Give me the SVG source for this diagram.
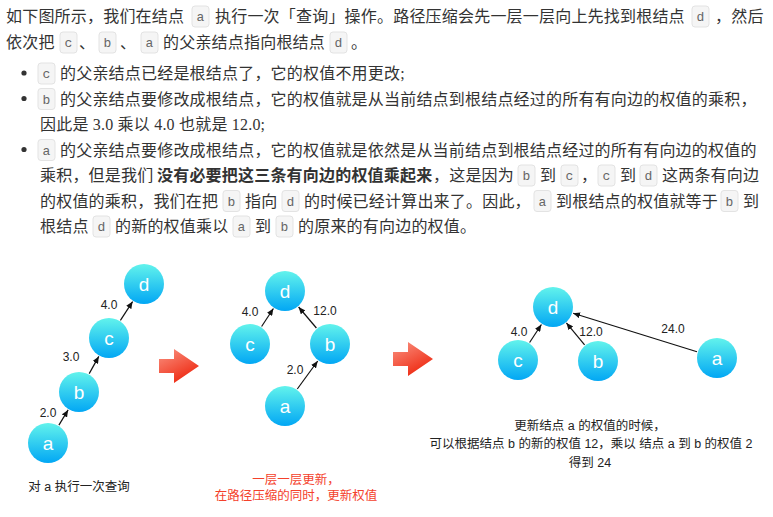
<svg xmlns="http://www.w3.org/2000/svg" width="773" height="517" viewBox="0 0 773 517">
<defs>
<style>
.t{font-family:"Liberation Serif","Noto Sans CJK SC",serif;font-size:16px;fill:#333;letter-spacing:0.2px}
.b{font-weight:bold}
.cb{fill:#f5f5f5;stroke:#e3e3e3;stroke-width:1}
.ct{font-family:"Liberation Mono",monospace;font-size:13px;fill:#666;text-anchor:middle}
.bul{fill:#333}
.node circle{fill:url(#ng)}
.node text{font-family:"Liberation Sans","Noto Sans CJK SC",sans-serif;font-size:19px;fill:#fff;text-anchor:middle}
.edge line{stroke:#111;stroke-width:1.2;marker-end:url(#ah)}
.el{font-family:"Liberation Sans",sans-serif;font-size:12px;fill:#222;text-anchor:middle}
.cap{font-family:"Liberation Sans","Noto Sans CJK SC",sans-serif;font-size:12.5px;fill:#222;text-anchor:middle}
.red{fill:#f4412b}
.big{fill:url(#rg)}
</style>
<linearGradient id="ng" x1="0" y1="0" x2="0" y2="1">
<stop offset="0" stop-color="#62f3ec"/>
<stop offset="1" stop-color="#02a7f4"/>
</linearGradient>
<linearGradient id="rg" x1="0" y1="0" x2="0.6" y2="1">
<stop offset="0" stop-color="#fa9483"/>
<stop offset="1" stop-color="#ee2810"/>
</linearGradient>
<marker id="ah" markerWidth="8" markerHeight="6" refX="7" refY="3" orient="auto" markerUnits="userSpaceOnUse">
<path d="M0,0 L7,3 L0,6 Z" fill="#111"/>
</marker>
</defs>
<rect width="773" height="517" fill="#fff"/>

<!-- body text -->
<g id="text">
<text class="t" x="6" y="22">如下图所示，我们在结点</text>
<rect class="cb" x="192" y="6" width="17" height="21" rx="3"/><text class="ct" x="200.5" y="21">a</text>
<text class="t" x="215" y="22">执行一次「查询」操作。路径压缩会先一层一层向上先找到根结点</text>
<rect class="cb" x="692" y="6" width="17" height="21" rx="3"/><text class="ct" x="700.5" y="21">d</text>
<text class="t" x="715" y="22">，然后</text>

<text class="t" x="6" y="48">依次把</text>
<rect class="cb" x="60" y="32" width="17" height="21" rx="3"/><text class="ct" x="68.5" y="47">c</text>
<text class="t" x="79" y="48">、</text>
<rect class="cb" x="99" y="32" width="17" height="21" rx="3"/><text class="ct" x="107.5" y="47">b</text>
<text class="t" x="120" y="48">、</text>
<rect class="cb" x="141" y="32" width="17" height="21" rx="3"/><text class="ct" x="149.5" y="47">a</text>
<text class="t" x="163" y="48">的父亲结点指向根结点</text>
<rect class="cb" x="330" y="32" width="17" height="21" rx="3"/><text class="ct" x="338.5" y="47">d</text>
<text class="t" x="351" y="48">。</text>

<circle class="bul" cx="24" cy="73" r="2.6"/>
<rect class="cb" x="38" y="63" width="17" height="21" rx="3"/><text class="ct" x="46.5" y="78">c</text>
<text class="t" x="60" y="79">的父亲结点已经是根结点了，它的权值不用更改;</text>

<circle class="bul" cx="24" cy="98.5" r="2.6"/>
<rect class="cb" x="38" y="88.5" width="17" height="21" rx="3"/><text class="ct" x="46.5" y="103.5">b</text>
<text class="t" x="60" y="104.5">的父亲结点要修改成根结点，它的权值就是从当前结点到根结点经过的所有有向边的权值的乘积，</text>

<text class="t" x="40" y="130">因此是 3.0 乘以 4.0 也就是 12.0;</text>

<circle class="bul" cx="24" cy="149.5" r="2.6"/>
<rect class="cb" x="38" y="139.5" width="17" height="21" rx="3"/><text class="ct" x="46.5" y="154.5">a</text>
<text class="t" x="60" y="155.5">的父亲结点要修改成根结点，它的权值就是依然是从当前结点到根结点经过的所有有向边的权值的</text>

<text class="t" x="40" y="181">乘积，但是我们</text>
<text class="t b" x="157" y="181">没有必要把这三条有向边的权值乘起来</text>
<text class="t" x="433" y="181">，这是因为</text>
<rect class="cb" x="518" y="165" width="17" height="21" rx="3"/><text class="ct" x="526.5" y="180">b</text>
<text class="t" x="540" y="181">到</text>
<rect class="cb" x="561" y="165" width="17" height="21" rx="3"/><text class="ct" x="569.5" y="180">c</text>
<text class="t" x="581" y="181">，</text>
<rect class="cb" x="598" y="165" width="17" height="21" rx="3"/><text class="ct" x="606.5" y="180">c</text>
<text class="t" x="620" y="181">到</text>
<rect class="cb" x="640" y="165" width="17" height="21" rx="3"/><text class="ct" x="648.5" y="180">d</text>
<text class="t" x="662" y="181">这两条有向边</text>

<text class="t" x="40" y="206.5">的权值的乘积，我们在把</text>
<rect class="cb" x="223" y="190.5" width="17" height="21" rx="3"/><text class="ct" x="231.5" y="205.5">b</text>
<text class="t" x="245" y="206.5">指向</text>
<rect class="cb" x="282" y="190.5" width="17" height="21" rx="3"/><text class="ct" x="290.5" y="205.5">d</text>
<text class="t" x="304" y="206.5">的时候已经计算出来了。因此，</text>
<rect class="cb" x="534" y="190.5" width="17" height="21" rx="3"/><text class="ct" x="542.5" y="205.5">a</text>
<text class="t" x="556" y="206.5">到根结点的权值就等于</text>
<rect class="cb" x="721" y="190.5" width="17" height="21" rx="3"/><text class="ct" x="729.5" y="205.5">b</text>
<text class="t" x="743" y="206.5">到</text>

<text class="t" x="40" y="232">根结点</text>
<rect class="cb" x="93" y="216" width="17" height="21" rx="3"/><text class="ct" x="101.5" y="231">d</text>
<text class="t" x="115" y="232">的新的权值乘以</text>
<rect class="cb" x="233" y="216" width="17" height="21" rx="3"/><text class="ct" x="241.5" y="231">a</text>
<text class="t" x="255" y="232">到</text>
<rect class="cb" x="276" y="216" width="17" height="21" rx="3"/><text class="ct" x="284.5" y="231">b</text>
<text class="t" x="298" y="232">的原来的有向边的权值。</text>
</g>

<!-- connectors -->
<g id="connectors" class="edge">
<line x1="58.9" y1="425.1" x2="68.1" y2="409.9"/>
<line x1="89.2" y1="373.6" x2="98.8" y2="356.4"/>
<line x1="120.4" y1="320.4" x2="132.6" y2="301.6"/>
<line x1="261.6" y1="326.5" x2="273.4" y2="308.5"/>
<line x1="316.4" y1="328" x2="298.6" y2="307"/>
<line x1="297.3" y1="389" x2="317.7" y2="361"/>
<line x1="529.6" y1="342.5" x2="541.4" y2="324.5"/>
<line x1="584.6" y1="344.9" x2="566.4" y2="322.9"/>
<line x1="697" y1="351.8" x2="573.1" y2="313.2"/>
</g>
<g id="edge-labels">
<text class="el" x="48" y="417">2.0</text>
<text class="el" x="71" y="361">3.0</text>
<text class="el" x="109" y="309">4.0</text>
<text class="el" x="250" y="316">4.0</text>
<text class="el" x="325" y="315">12.0</text>
<text class="el" x="295" y="374">2.0</text>
<text class="el" x="519" y="336">4.0</text>
<text class="el" x="591" y="336">12.0</text>
<text class="el" x="673" y="333">24.0</text>
</g>

<!-- panel 1 -->
<g id="p1-d" class="node"><circle cx="144" cy="284" r="20"/><text x="144" y="291">d</text></g>
<g id="p1-c" class="node"><circle cx="109" cy="338" r="20"/><text x="109" y="345">c</text></g>
<g id="p1-b" class="node"><circle cx="79" cy="392" r="20"/><text x="79" y="399">b</text></g>
<g id="p1-a" class="node"><circle cx="48" cy="443" r="20"/><text x="48" y="450">a</text></g>
<text class="cap" x="79" y="491">对 a 执行一次查询</text>

<!-- arrow 1 -->
<path id="arrow1" class="big" d="M159,359 H174 V349 L199,366 L174,383 V373 H159 Z"/>

<!-- panel 2 -->
<g id="p2-d" class="node"><circle cx="285" cy="291" r="20"/><text x="285" y="298">d</text></g>
<g id="p2-c" class="node"><circle cx="250" cy="344" r="20"/><text x="250" y="351">c</text></g>
<g id="p2-b" class="node"><circle cx="330" cy="344" r="20"/><text x="330" y="351">b</text></g>
<g id="p2-a" class="node"><circle cx="285" cy="406" r="20"/><text x="285" y="413">a</text></g>
<text class="cap red" x="296" y="484">一层一层更新，</text>
<text class="cap red" x="296" y="500">在路径压缩的同时，更新权值</text>

<!-- arrow 2 -->
<path id="arrow2" class="big" d="M393,352 H408 V342 L433,359 L408,376 V366 H393 Z"/>

<!-- panel 3 -->
<g id="p3-d" class="node"><circle cx="553" cy="307" r="20"/><text x="553" y="314">d</text></g>
<g id="p3-c" class="node"><circle cx="518" cy="360" r="20"/><text x="518" y="367">c</text></g>
<g id="p3-b" class="node"><circle cx="598" cy="361" r="20"/><text x="598" y="368">b</text></g>
<g id="p3-a" class="node"><circle cx="717" cy="358" r="20"/><text x="717" y="365">a</text></g>
<text class="cap" x="590" y="430">更新结点 a 的权值的时候，</text>
<text class="cap" x="591" y="448">可以根据结点 b 的新的权值 12，乘以 结点 a 到 b 的权值 2</text>
<text class="cap" x="590" y="467">得到 24</text>
</svg>
